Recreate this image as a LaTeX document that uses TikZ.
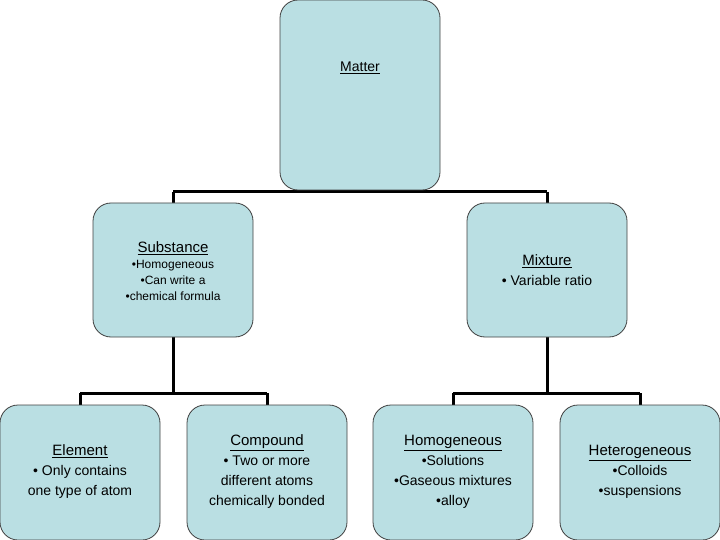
\documentclass[tikz,border=0pt]{standalone}
\usepackage{fontspec}
\setmainfont{Liberation Sans}
\newcommand{\myul}[1]{\underline{#1}}
\newcommand{\ttl}[1]{{\fontsize{15}{20}\selectfont\myul{#1}}}
\definecolor{boxfill}{HTML}{BADFE3}
\definecolor{boxline}{HTML}{404040}
\begin{document}
\begin{tikzpicture}[x=1pt,y=-1pt,
  box/.style={draw=boxline,fill=boxfill,rounded corners=18pt,line width=0.8pt,minimum width=160pt,align=center,inner sep=2pt},
  txt/.style={align=center,font=\fontsize{14}{20}\selectfont},
  small/.style={align=center,font=\fontsize{12}{16}\selectfont},
  conn/.style={line width=3pt}]
\useasboundingbox (0,0) rectangle (720,540);
% connectors
\coordinate (mj) at (360,192);
\coordinate (sl) at (173,192);
\coordinate (ml) at (547,192);
\draw[conn] (360,190) -- (mj);
\draw[conn] (sl) -- (ml);
\draw[conn] (sl) -- (173,203);
\draw[conn] (ml) -- (547,203);
\draw[conn] (173,337) -- (173,393);
\draw[conn] (80,393) -- (267,393);
\draw[conn] (80,393) -- (80,405);
\draw[conn] (267,393) -- (267,405);
\draw[conn] (547,337) -- (547,393);
\draw[conn] (453,393) -- (640,393);
\draw[conn] (453,393) -- (453,405);
\draw[conn] (640,393) -- (640,405);
% boxes
\node[box,minimum height=190pt] (matter) at (360,95) {};
\node[txt] (matterT) at (360,68) {\myul{Matter}};
\node[box,minimum height=134pt] (subst) at (173,270) {};
\node[small] (substT) at (173,271) {\ttl{Substance}\\\textbullet Homogeneous\\\textbullet Can write a\\\textbullet chemical formula};
\node[box,minimum height=134pt] (mix) at (547,270) {};
\node[txt] (mixT) at (547,270) {\ttl{Mixture}\\\textbullet\ Variable ratio};
\node[box,minimum height=135pt] (elem) at (80,472.5) {};
\node[txt] (elemT) at (80,472) {\ttl{Element}\\\textbullet\ Only contains\\one type of atom};
\node[box,minimum height=135pt] (comp) at (267,472.5) {};
\node[txt] (compT) at (267,472) {\ttl{Compound}\\\textbullet\ Two or more\\different atoms\\chemically bonded};
\node[box,minimum height=135pt] (homo) at (453,472.5) {};
\node[txt] (homoT) at (453,472) {\ttl{Homogeneous}\\\textbullet Solutions\\\textbullet Gaseous mixtures\\\textbullet alloy};
\node[box,minimum height=135pt] (hete) at (640,472.5) {};
\node[txt] (heteT) at (640,472) {\ttl{Heterogeneous}\\\textbullet Colloids\\\textbullet suspensions};
\end{tikzpicture}
\end{document}
